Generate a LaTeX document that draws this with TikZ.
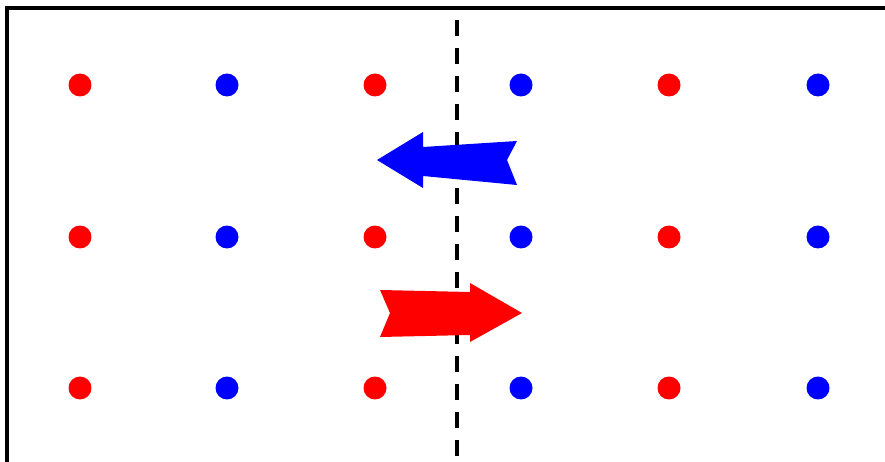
\documentclass[tikz,border=0pt]{standalone}
\usepackage{tikz}
\usetikzlibrary{positioning, calc}

\begin{document}
\begin{tikzpicture}[
    x=0.02cm, y=-0.02cm,
    dot/.style={circle, inner sep=0pt, minimum size=0.46cm},
    reddot/.style={dot, fill=red},
    bluedot/.style={dot, fill=blue},
    frame/.style={line width=0.09cm, black},
    divider/.style={line width=0.08cm, black, dash pattern=on 0.32cm off 0.24cm, dash phase=0.32cm},
]
    \useasboundingbox (0,0) rectangle (885,462);

    % frame: left and top edge only
    \coordinate (fbl) at (7,462);
    \coordinate (ftl) at (7,8);
    \coordinate (ftr) at (885,8);
    \draw[frame] (fbl) -- (ftl) -- (ftr);

    % lattice of dots
    \foreach \row/\y in {1/85, 2/237, 3/388} {
        \foreach \col/\x/\c in {1/80/red, 2/227/blue, 3/375/red, 4/521/blue, 5/669/red, 6/818/blue} {
            \node[\c dot] (d-\row-\col) at (\x,\y) {};
        }
    }

    % dashed divider
    \coordinate (dtop) at (457,8);
    \coordinate (dbot) at (457,462);
    \draw[divider] (dtop) -- (dbot);

    % blue arrow, pointing left
    \fill[blue] (377,160) -- (423,132) -- (423,147) -- (517,141)
        -- (507,160) -- (517,185) -- (423,176) -- (423,188) -- cycle;

    % red arrow, pointing right
    \fill[red] (522,313) -- (470,283) -- (470,292) -- (380,290)
        -- (390,313) -- (380,337) -- (470,335) -- (470,342) -- cycle;
\end{tikzpicture}
\end{document}
